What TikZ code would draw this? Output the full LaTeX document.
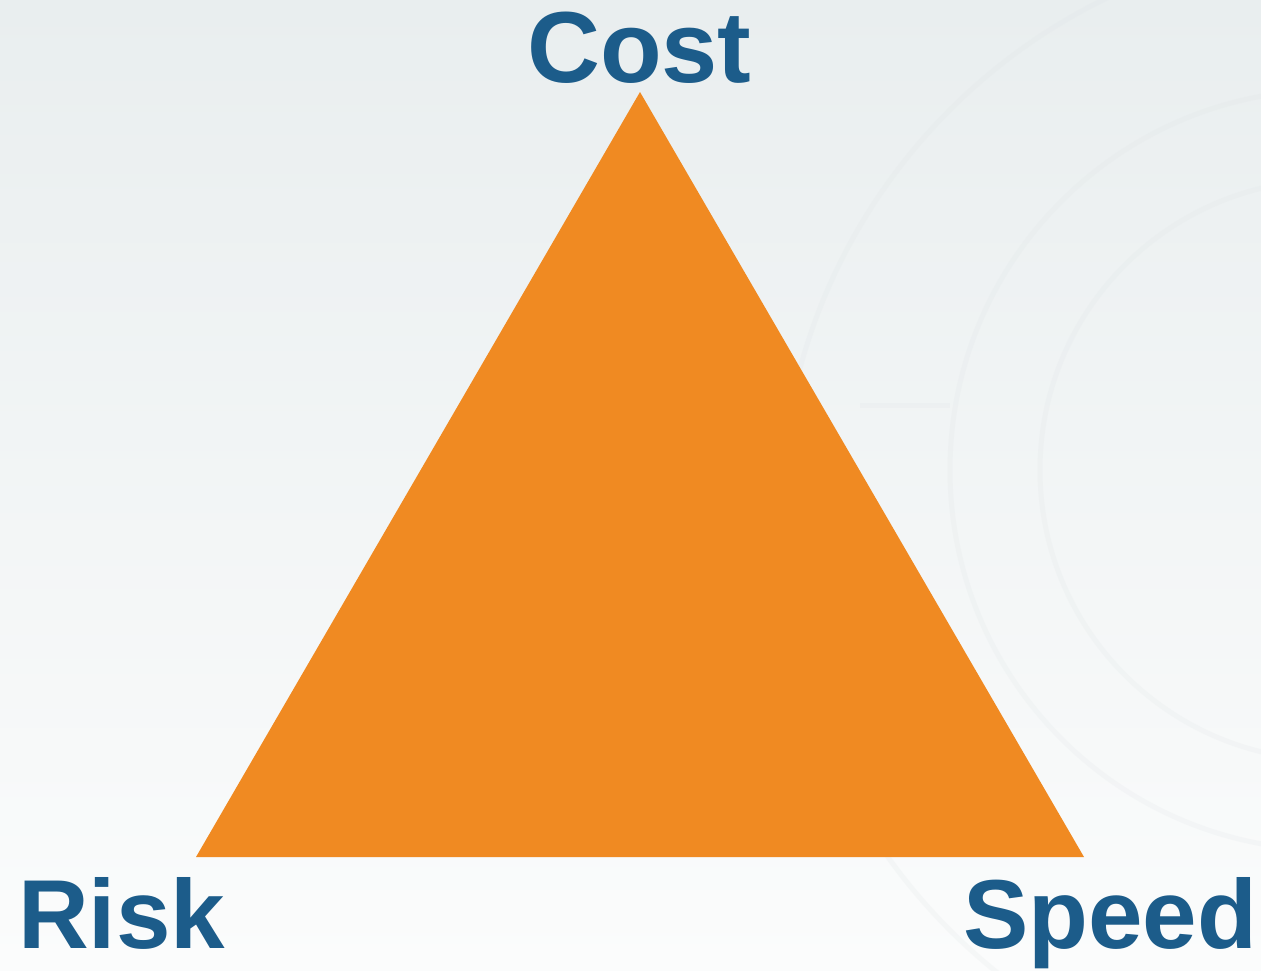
\documentclass[tikz,border=0pt]{standalone}
\usepackage{fontspec}
\setmainfont{Liberation Sans}
\definecolor{txtblue}{HTML}{1C5C8A}
\definecolor{triorange}{HTML}{F08A22}
\definecolor{bgtop}{HTML}{E9EEEF}
\definecolor{bgbot}{HTML}{FBFCFC}
\definecolor{arcgray}{HTML}{DDE2E4}
\tikzset{
  label text/.style={text=txtblue, font=\fontsize{98}{98}\selectfont\bfseries, inner sep=0pt, anchor=base west},
  bgarc/.style={draw=arcgray, line width=5pt, opacity=0.18}
}
\begin{document}
\begin{tikzpicture}[x=1pt,y=-1pt]
\useasboundingbox (0,0) rectangle (1261,970);
\shade[top color=bgtop, bottom color=bgbot] (0,0) rectangle (1261,970);
\begin{scope}
\clip (0,0) rectangle (1261,970);
\draw[bgarc] (1330,470) circle (290);
\draw[bgarc] (1330,470) circle (380);
\draw[bgarc] (1360,520) circle (580);
\draw[bgarc] (860,405) -- (950,405);
\end{scope}
\coordinate (top) at (640,92);
\coordinate (bl) at (196,857);
\coordinate (br) at (1084,857);
\fill[triorange] (top) -- (bl) -- (br) -- cycle;
\node[label text, font=\fontsize{101}{101}\selectfont\bfseries] (cost) at (527,82) {Cost};
\node[label text] (risk) at (18,948) {Risk};
\node[label text] (speed) at (963,948) {Speed};
\end{tikzpicture}
\end{document}
